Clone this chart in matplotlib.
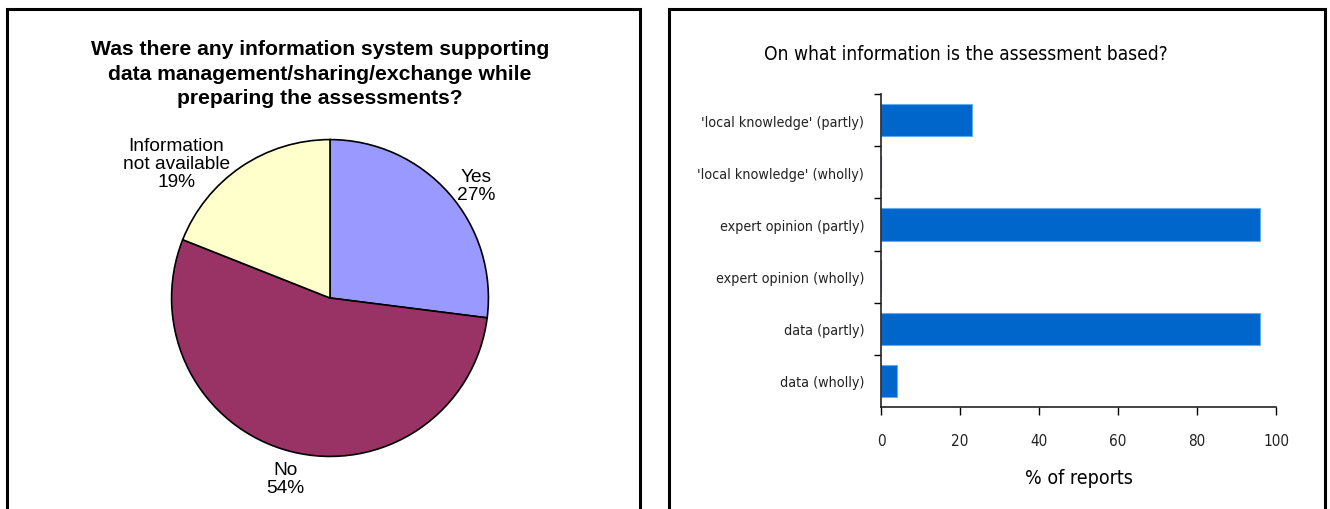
import matplotlib
matplotlib.use('Agg')
import matplotlib.pyplot as plt
from matplotlib.patches import Rectangle
from matplotlib import font_manager as fm

# ---- pie: information system support ----
PIE_LABELS = ['Yes', 'No', 'Information\nnot available']
PIE_VALUES = [27, 54, 19]
PIE_COLORS = ['#9999ff', '#993366', '#ffffcc']

# ---- bars: basis of the assessment (top to bottom) ----
BAR_CATS = ["'local knowledge' (partly)", "'local knowledge' (wholly)",
            'expert opinion (partly)', 'expert opinion (wholly)',
            'data (partly)', 'data (wholly)']
BAR_VALUES = [23, 0, 96, 0, 96, 4]
X_TICKS = [0, 20, 40, 60, 80, 100]

W, H = 1330, 510
SANS = ['Liberation Sans', 'DejaVu Sans']


def px(x0, y0, x1, y1):
    """pixel box (top-left origin) -> figure fraction rect"""
    return [x0 / W, (H - y1) / H, (x1 - x0) / W, (y1 - y0) / H]


def narrow(size):
    return fm.FontProperties(family='DejaVu Sans', stretch='condensed', size=size)


fig = plt.figure(figsize=(W / 100, H / 100), dpi=100)

# panel frames
for x0, x1 in [(7, 640), (669, 1325)]:
    fig.add_artist(Rectangle((x0 / W, -0.05), (x1 - x0) / W, (H - 10) / H + 0.05,
                             transform=fig.transFigure, fill=False,
                             edgecolor='black', lw=2.2))

# left panel
fig.text(320 / W, 1 - 74 / H,
         'Was there any information system supporting\n'
         'data management/sharing/exchange while\n'
         'preparing the assessments?',
         ha='center', va='center', fontsize=15.2, fontweight='bold',
         family=SANS, linespacing=1.38)

ax1 = fig.add_axes(px(170, 139, 490, 459))
wedges, _ = ax1.pie(PIE_VALUES, colors=PIE_COLORS, startangle=90,
                    counterclock=False, radius=1,
                    wedgeprops=dict(edgecolor='black', linewidth=1.2))
ax1.set_xlim(-1.01, 1.01)
ax1.set_ylim(-1.01, 1.01)
ax1.set_aspect('equal')
ax1.axis('off')

label_pos = [(0.925, 0.71), (-0.28, -1.14), (-0.97, 0.85)]
for (lx, ly), name, v in zip(label_pos, PIE_LABELS, PIE_VALUES):
    ax1.text(lx, ly, f'{name}\n{v}%', ha='center', va='center',
             fontsize=13.8, family=SANS, linespacing=1.1, clip_on=False)

# right panel
fig.text(966 / W, 1 - 55 / H, 'On what information is the assessment based?',
         ha='center', va='center', fontproperties=narrow(13.8))

ax2 = fig.add_axes(px(881, 95, 1276, 408))
ypos = list(range(len(BAR_CATS)))[::-1]
ax2.barh(ypos, BAR_VALUES, height=0.62, color='#0066cc',
         edgecolor='#66aaee', linewidth=0.8)
ax2.set_xlim(0, 100)
ax2.set_ylim(-0.5, len(BAR_CATS) - 0.5)
ax2.set_yticks(ypos)
ax2.set_yticklabels(BAR_CATS, fontproperties=narrow(10.3), color='#222222')
ax2.set_yticks([y + 0.5 for y in range(len(BAR_CATS))], minor=True)
ax2.tick_params(axis='y', which='major', length=0, pad=12)
ax2.tick_params(axis='y', which='minor', length=5, width=1, direction='out')
ax2.set_xticks(X_TICKS)
ax2.set_xticklabels([str(t) for t in X_TICKS], fontproperties=narrow(11),
                    color='#222222')
ax2.tick_params(axis='x', length=6, width=1, direction='out', pad=13)
ax2.set_xlabel('% of reports', fontproperties=narrow(14), labelpad=14)
for s in ['top', 'right']:
    ax2.spines[s].set_visible(False)
for s in ['left', 'bottom']:
    ax2.spines[s].set_linewidth(1.2)
    ax2.spines[s].set_color('#222222')

fig.savefig('out.png', dpi=100)
